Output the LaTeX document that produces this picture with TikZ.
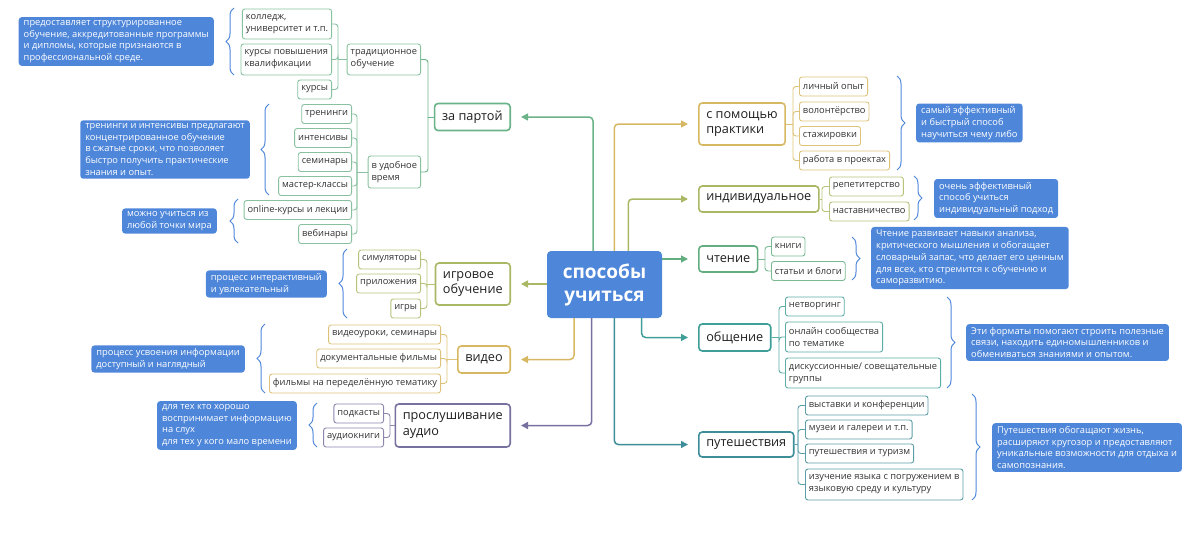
\documentclass[tikz,border=0pt]{standalone}
\usepackage{fontspec}
\setmainfont{Open Sans}
\usetikzlibrary{arrows.meta,decorations.pathreplacing}
\definecolor{cBlue}{HTML}{4E86DA}
\definecolor{cGreen}{HTML}{6AB287}
\definecolor{cGreen2}{HTML}{62AE80}
\definecolor{cYellow}{HTML}{D7B862}
\definecolor{cOlive}{HTML}{A9B864}
\definecolor{cTeal}{HTML}{3F9E98}
\definecolor{cTeal2}{HTML}{3E8E9A}
\definecolor{cPurple}{HTML}{76719F}
\definecolor{cText}{HTML}{333333}
\tikzset{
  centerbox/.style={fill=cBlue, rounded corners=4pt, text=white, align=center,
    font=\fontsize{19}{23}\selectfont\bfseries, minimum width=115pt, minimum height=67pt},
  mainbox/.style={draw, line width=1.6pt, rounded corners=3.5pt, fill=white, inner xsep=7.5pt,
    inner ysep=2pt, align=left, text=black!88, font=\fontsize{12.7}{15.5}\selectfont},
  subbox/.style={draw, line width=0.9pt, rounded corners=2.5pt, fill=white, inner xsep=3.5pt,
    inner ysep=1.5pt, minimum height=19pt, align=left, text=cText, font=\fontsize{9.3}{12}\selectfont},
  notebox/.style={fill=cBlue, rounded corners=3pt, text=white, inner xsep=5pt, inner ysep=3pt,
    align=left, font=\fontsize{9.3}{11.8}\selectfont},
  arr/.style={line width=1.5pt, rounded corners=4pt, -{Triangle[length=7pt,width=7pt]}},
  link/.style={line width=0.9pt, rounded corners=3pt},
  brc/.style={draw=cBlue, line width=1pt, decorate, decoration={brace, amplitude=8pt, aspect=0.5}}
}
\begin{document}
\begin{tikzpicture}[x=1pt,y=-1pt]
\useasboundingbox (0,0) rectangle (1200,546);

% ---- centre
\node[centerbox] (c) at (604.5,284.5) {способы\\учиться};

% ---- main branches
\node[mainbox, draw=cGreen, anchor=east, minimum height=27pt] (zap) at (511,117) {за партой};
\node[mainbox, draw=cOlive, anchor=east, minimum height=42pt] (igr) at (511,284) {игровое\\обучение};
\node[mainbox, draw=cYellow, anchor=east, minimum height=27pt] (vid) at (511,359.5) {видео};
\node[mainbox, draw=cPurple, anchor=east, minimum height=43pt] (aud) at (511,425.5) {прослушивание\\аудио};
\node[mainbox, draw=cYellow, anchor=west, minimum height=42pt] (pra) at (698,124) {с помощью\\практики};
\node[mainbox, draw=cOlive, anchor=west, minimum height=26pt] (ind) at (698,199) {индивидуальное};
\node[mainbox, draw=cGreen2, anchor=west, minimum height=26pt] (cht) at (698,259) {чтение};
\node[mainbox, draw=cTeal, anchor=west, minimum height=27pt] (obs) at (698,337.5) {общение};
\node[mainbox, draw=cTeal2, anchor=west, minimum height=25pt] (put) at (698,444.5) {путешествия};

% ---- arrows from centre
\draw[arr, cGreen] ([xshift=-11.5pt]c.north) |- ([xshift=10pt]zap.east);
\draw[arr, cYellow] ([xshift=9.8pt]c.north) |- ([xshift=-10pt]pra.west);
\draw[arr, cOlive] ([xshift=23.8pt]c.north) |- ([xshift=-10pt]ind.west);
\draw[arr, cGreen2] (c.east |- cht.west) -- ([xshift=-10pt]cht.west);
\draw[arr, cTeal] ([xshift=37.2pt]c.south) |- ([xshift=-10pt]obs.west);
\draw[arr, cTeal2] ([xshift=9.8pt]c.south) |- ([xshift=-10pt]put.west);
\draw[arr, cOlive] (c.west |- igr.east) -- ([xshift=10pt]igr.east);
\draw[arr, cYellow] ([xshift=-30.5pt]c.south) |- ([xshift=10pt]vid.east);
\draw[arr, cPurple] ([xshift=-12.8pt]c.south) |- ([xshift=10pt]aud.east);

% ---- за партой
\node[subbox, draw=cGreen!80, anchor=east, minimum height=31pt] (trad) at (421,59.5) {традиционное\\обучение};
\node[subbox, draw=cGreen!80, anchor=east, minimum height=32pt] (udob) at (421,172) {в удобное\\время};
\node[subbox, draw=cGreen!80, anchor=east, minimum height=30pt] (kol) at (332,24) {колледж,\\университет и т.п.};
\node[subbox, draw=cGreen!80, anchor=east, minimum height=31pt] (kpk) at (332,59.5) {курсы повышения\\квалификации};
\node[subbox, draw=cGreen!80, anchor=east] (kur) at (332,89.5) {курсы};
\node[subbox, draw=cGreen!80, anchor=east] (tre) at (352,114) {тренинги};
\node[subbox, draw=cGreen!80, anchor=east] (int) at (352,138) {интенсивы};
\node[subbox, draw=cGreen!80, anchor=east] (sem) at (352,162) {семинары};
\node[subbox, draw=cGreen!80, anchor=east] (mas) at (352,186) {мастер-классы};
\node[subbox, draw=cGreen!80, anchor=east] (onl) at (352,210) {online-курсы и лекции};
\node[subbox, draw=cGreen!80, anchor=east] (veb) at (352,234) {вебинары};
\coordinate (sZap) at (428,117);
\coordinate (sTrad) at (338,59.5);
\coordinate (sUdob) at (357,172);
\draw[link, cGreen] (zap.west) -- (sZap);
\foreach \n in {trad,udob} \draw[link, cGreen] (sZap) |- (\n.east);
\draw[link, cGreen!80] (trad.west) -- (sTrad);
\foreach \n in {kol,kpk,kur} \draw[link, cGreen!80] (sTrad) |- (\n.east);
\draw[link, cGreen!80] (udob.west) -- (sUdob);
\foreach \n in {tre,int,sem,mas,onl,veb} \draw[link, cGreen!80] (sUdob) |- (\n.east);

% ---- игровое обучение
\node[subbox, draw=cOlive!85, anchor=east] (sim) at (421,259.5) {симуляторы};
\node[subbox, draw=cOlive!85, anchor=east] (pri) at (421,283.5) {приложения};
\node[subbox, draw=cOlive!85, anchor=east] (igry) at (421,308.5) {игры};
\coordinate (sIgr) at (427,284);
\draw[link, cOlive!85] (igr.west) -- (sIgr);
\foreach \n in {sim,pri,igry} \draw[link, cOlive!85] (sIgr) |- (\n.east);

% ---- видео
\node[subbox, draw=cYellow!85, anchor=east] (vu) at (441,334.5) {видеоуроки, семинары};
\node[subbox, draw=cYellow!85, anchor=east] (dok) at (441,358.5) {документальные фильмы};
\node[subbox, draw=cYellow!85, anchor=east] (fil) at (441,383.5) {фильмы на переделённую тематику};
\coordinate (sVid) at (447,359.5);
\draw[link, cYellow!85] (vid.west) -- (sVid);
\foreach \n in {vu,dok,fil} \draw[link, cYellow!85] (sVid) |- (\n.east);

% ---- аудио
\node[subbox, draw=cPurple!85, anchor=east] (pod) at (384,413.5) {подкасты};
\node[subbox, draw=cPurple!85, anchor=east] (akn) at (384,437.5) {аудиокниги};
\coordinate (sAud) at (390,425.5);
\draw[link, cPurple!85] (aud.west) -- (sAud);
\foreach \n in {pod,akn} \draw[link, cPurple!85] (sAud) |- (\n.east);

% ---- практика
\node[subbox, draw=cYellow!85, anchor=west] (lo) at (799,86.5) {личный опыт};
\node[subbox, draw=cYellow!85, anchor=west] (vol) at (799,111.5) {волонтёрство};
\node[subbox, draw=cYellow!85, anchor=west] (sta) at (799,136) {стажировки};
\node[subbox, draw=cYellow!85, anchor=west] (rab) at (799,160.5) {работа в проектах};
\coordinate (sPra) at (793,124);
\draw[link, cYellow!85] (pra.east) -- (sPra);
\foreach \n in {lo,vol,sta,rab} \draw[link, cYellow!85] (sPra) |- (\n.west);

% ---- индивидуальное
\node[subbox, draw=cOlive!85, anchor=west] (rep) at (829,186.5) {репетитерство};
\node[subbox, draw=cOlive!85, anchor=west] (nas) at (829,211.5) {наставничество};
\coordinate (sInd) at (822,199);
\draw[link, cOlive!85] (ind.east) -- (sInd);
\foreach \n in {rep,nas} \draw[link, cOlive!85] (sInd) |- (\n.west);

% ---- чтение
\node[subbox, draw=cGreen2!85, anchor=west] (kni) at (771,246.5) {книги};
\node[subbox, draw=cGreen2!85, anchor=west] (sta2) at (771,271) {статьи и блоги};
\coordinate (sCht) at (765,259);
\draw[link, cGreen2!85] (cht.east) -- (sCht);
\foreach \n in {kni,sta2} \draw[link, cGreen2!85] (sCht) |- (\n.west);

% ---- общение
\node[subbox, draw=cTeal!85, anchor=west] (net) at (785,306.5) {нетворгинг};
\node[subbox, draw=cTeal!85, anchor=west, minimum height=30pt] (onc) at (785,337) {онлайн сообщества\\по тематике};
\node[subbox, draw=cTeal!85, anchor=west, minimum height=30pt] (dis) at (785,373) {дискуссионные/ совещательные\\группы};
\coordinate (sObs) at (779,337.5);
\draw[link, cTeal!85] (obs.east) -- (sObs);
\foreach \n in {net,onc,dis} \draw[link, cTeal!85] (sObs) |- (\n.west);

% ---- путешествия
\node[subbox, draw=cTeal2!85, anchor=west] (vys) at (805,405.5) {выставки и конференции};
\node[subbox, draw=cTeal2!85, anchor=west] (muz) at (805,429.5) {музеи и галереи и т.п.};
\node[subbox, draw=cTeal2!85, anchor=west] (tur) at (805,453.5) {путешествия и туризм};
\node[subbox, draw=cTeal2!85, anchor=west, minimum height=31pt] (yaz) at (805,484.5) {изучение языка с погружением в\\языковую среду и культуру};
\coordinate (sPut) at (798,444.5);
\draw[link, cTeal2!85] (put.east) -- (sPut);
\foreach \n in {vys,muz,tur,yaz} \draw[link, cTeal2!85] (sPut) |- (\n.west);

% ---- braces
\draw[brc] (234,75) -- (234,8);
\draw[brc] (269,195) -- (269,104);
\draw[brc] (238,243) -- (238,199);
\draw[brc] (347,318) -- (347,249);
\draw[brc] (265,393) -- (265,324);
\draw[brc] (317,447) -- (317,403);
\draw[brc] (897,76) -- (897,170);
\draw[brc] (914,176) -- (914,220);
\draw[brc] (852,237) -- (852,280);
\draw[brc] (947,297) -- (947,388);
\draw[brc] (972,394) -- (972,500);

% ---- notes
\node[notebox, anchor=east] (n1) at (214,41.5) {предоставляет структурированное\\обучение, аккредитованные программы\\и дипломы, которые признаются в\\профессиональной среде.};
\node[notebox, anchor=east] (n2) at (250,149.5) {тренинги и интенсивы предлагают\\концентрированное обучение\\в сжатые сроки, что позволяет\\быстро получить практические\\знания и опыт.};
\node[notebox, anchor=east] (n3) at (217,221) {можно учиться из\\любой точки мира};
\node[notebox, anchor=east] (n4) at (327,284) {процесс интерактивный\\и увлекательный};
\node[notebox, anchor=east] (n5) at (245,359) {процесс усвоения информации\\доступный и наглядный};
\node[notebox, anchor=east] (n6) at (297,425.5) {для тех кто хорошо\\воспринимает информацию\\на слух\\для тех у кого мало времени};
\node[notebox, anchor=west] (n7) at (916,123) {самый эффективный\\и быстрый способ\\научиться чему либо};
\node[notebox, anchor=west] (n8) at (934,198.5) {очень эффективный\\способ учиться\\индивидуальный подход};
\node[notebox, anchor=west] (n9) at (871,258) {Чтение развивает навыки анализа,\\критического мышления и обогащает\\словарный запас, что делает его ценным\\для всех, кто стремится к обучению и\\саморазвитию.};
\node[notebox, anchor=west] (n10) at (966,342.5) {Эти форматы помогают строить полезные\\связи, находить единомышленников и\\обмениваться знаниями и опытом.};
\node[notebox, anchor=west] (n11) at (992,447.5) {Путешествия обогащают жизнь,\\расширяют кругозор и предоставляют\\уникальные возможности для отдыха и\\самопознания.};
\end{tikzpicture}
\end{document}
